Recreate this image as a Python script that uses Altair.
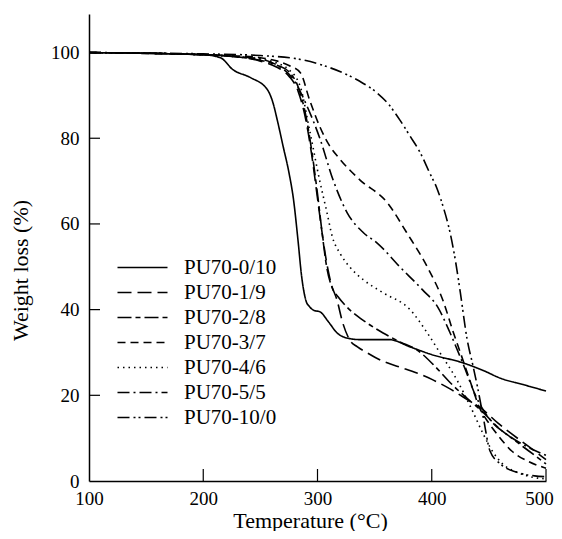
import altair as alt
import pandas as pd

series = ["PU70-0/10", "PU70-1/9", "PU70-2/8", "PU70-3/7", "PU70-4/6", "PU70-5/5", "PU70-10/0"]
dashes = [[1, 0], [14, 6], [14, 4, 5, 4], [8, 5], [1.5, 4], [12, 4, 2, 4], [12, 4, 2, 3, 2, 4]]

t_0_10 = [100, 150, 200, 215, 226, 241, 256, 261, 265, 270, 275, 279, 283, 286, 290, 293, 297, 302, 310, 317, 327, 337, 350, 363, 381, 400, 427, 445, 460, 480, 500]
w_0_10 = [100, 99.8, 99.5, 98.8, 96, 94.2, 91.4, 88.3, 84, 78, 72, 65.7, 56, 48, 42, 40.7, 39.8, 39.5, 37, 34.6, 33.3, 33, 33, 33, 31.3, 29.5, 27.6, 25.8, 24, 22.5, 21]

t_1_9 = [100, 200, 230, 250, 265, 275, 283, 290, 295, 300, 304, 308, 312, 317, 322, 328, 335, 343, 357, 372, 387, 401, 416, 431, 445, 458, 470, 485, 500]
w_1_9 = [100, 99.5, 99, 98, 96.5, 94.5, 91, 84, 76, 66, 58, 51, 46, 42.3, 37, 33, 31.3, 30, 28, 26.6, 25.2, 23.6, 21.5, 19, 16.6, 13.5, 11, 8, 5]

t_2_8 = [100, 200, 230, 250, 265, 275, 283, 290, 295, 300, 304, 308, 313, 318, 328, 340, 357, 372, 387, 402, 416, 430, 445, 458, 470, 485, 500]
w_2_8 = [100, 99.5, 99, 98.2, 97, 95.5, 92, 85, 77, 67, 58, 50, 45, 43, 40, 37.5, 34.6, 32.5, 30.6, 27, 23, 19.5, 16, 12.5, 10, 7, 4]

t_3_7 = [100, 200, 230, 250, 265, 275, 285, 293, 302, 310, 320, 337, 361, 378, 396, 410, 419, 425, 434, 442, 450, 457, 470, 485, 500]
w_3_7 = [100, 99.5, 99.2, 98.8, 98, 97, 95.3, 89, 82.7, 78.5, 75, 70.3, 65, 58, 50, 42, 34.6, 30, 23, 17, 13.5, 11, 7, 4.5, 3]

t_4_6 = [100, 200, 230, 250, 265, 275, 285, 293, 302, 308, 313, 320, 328, 340, 357, 381, 396, 407, 422, 434, 445, 453, 462, 475, 490, 500]
w_4_6 = [100, 99.5, 99, 98.5, 97.5, 96, 92, 82, 70, 63, 57, 53, 50, 47, 44, 40, 34.6, 30, 23.6, 17.3, 11, 7, 4, 2, 0.8, 0.5]

t_5_5 = [100, 200, 230, 250, 265, 279, 291, 302, 314, 326, 340, 352, 372, 392, 405, 416, 427, 440, 452, 465, 480, 500]
w_5_5 = [100, 99.5, 99, 98.5, 97, 93.7, 87.4, 80, 70, 62.6, 58, 55.6, 50, 44.6, 40.7, 34.6, 27.6, 19, 14, 11, 8.5, 6]

t_10_0 = [100, 200, 250, 285, 305, 322, 337, 352, 362, 372, 381, 390, 398, 405, 410, 416, 421, 425, 431, 436, 440, 445, 451, 460, 475, 490, 500]
w_10_0 = [100, 99.7, 99.3, 98.4, 97, 95.3, 93.3, 90.6, 88, 84.3, 80.5, 76.6, 72, 68, 64, 58, 51, 44, 33, 27, 22, 15, 7, 4, 2, 1.2, 1]

x_ticks = [100, 200, 300, 400, 500]
y_ticks = [0, 20, 40, 60, 80, 100]

rows = []
for name, ts, ws in zip(series,
                        [t_0_10, t_1_9, t_2_8, t_3_7, t_4_6, t_5_5, t_10_0],
                        [w_0_10, w_1_9, w_2_8, w_3_7, w_4_6, w_5_5, w_10_0]):
    for t, w in zip(ts, ws):
        rows.append({"series": name, "T": t, "W": w})
df = pd.DataFrame(rows)

W, H = 457, 467
FONT = "Liberation Serif"
xs = alt.Scale(domain=[100, 500], nice=False, zero=False)
ys = alt.Scale(domain=[0, 109], nice=False)

x_axis = alt.Axis(values=x_ticks, title="Temperature (°C)", labelFlush=False,
                  labelOffset={"condition": {"test": "datum.value === 500", "value": -7}, "value": 0},
                  labelPadding=8, titleX=221, titleY=39,
                  titleBaseline="middle", titleAlign="center")
y_axis = alt.Axis(values=y_ticks, title="Weight loss (%)",
                  labelPadding=10, titleX=-69, titleY=256, titleAngle=270,
                  titleBaseline="middle", titleAlign="center")

lines = alt.Chart(df).mark_line(strokeWidth=1.6, color="black", interpolate="monotone").encode(
    x=alt.X("T:Q", scale=xs, axis=x_axis),
    y=alt.Y("W:Q", scale=ys, axis=y_axis),
    strokeDash=alt.StrokeDash("series:N", sort=series,
                              scale=alt.Scale(domain=series, range=dashes),
                              legend=alt.Legend(title=None, orient="none", legendX=43, legendY=243,
                                                symbolType="M-5,0H5", symbolSize=100,
                                                symbolStrokeWidth=1.6, symbolStrokeColor="black",
                                                symbolFillColor="transparent",
                                                labelOffset=31, rowPadding=3,
                                                labelFont=FONT, labelFontSize=21, labelColor="black")),
)

xt = alt.Chart(pd.DataFrame({"T": x_ticks[1:]})).mark_rule(color="black", strokeWidth=1.2).encode(
    x=alt.X("T:Q", scale=xs, axis=x_axis), y=alt.value(H), y2=alt.value(H - 12))
yt = alt.Chart(pd.DataFrame({"W": y_ticks[1:]})).mark_rule(color="black", strokeWidth=1.2).encode(
    y=alt.Y("W:Q", scale=ys, axis=y_axis), x=alt.value(0), x2=alt.value(11))

chart = alt.layer(lines, xt, yt).properties(
    width=W, height=H,
    autosize=alt.AutoSizeParams(type="none"),
    padding={"left": 81, "top": 6, "right": 8, "bottom": 50},
).configure_view(stroke=None).configure_axis(
    domainColor="black", domainWidth=1.5, ticks=False, grid=False,
    labelFont=FONT, labelFontSize=19, labelColor="black",
    titleFont=FONT, titleFontSize=22, titleFontWeight="normal", titleColor="black",
)

chart.save("out.html", embed_options={"renderer": "svg", "actions": False})
